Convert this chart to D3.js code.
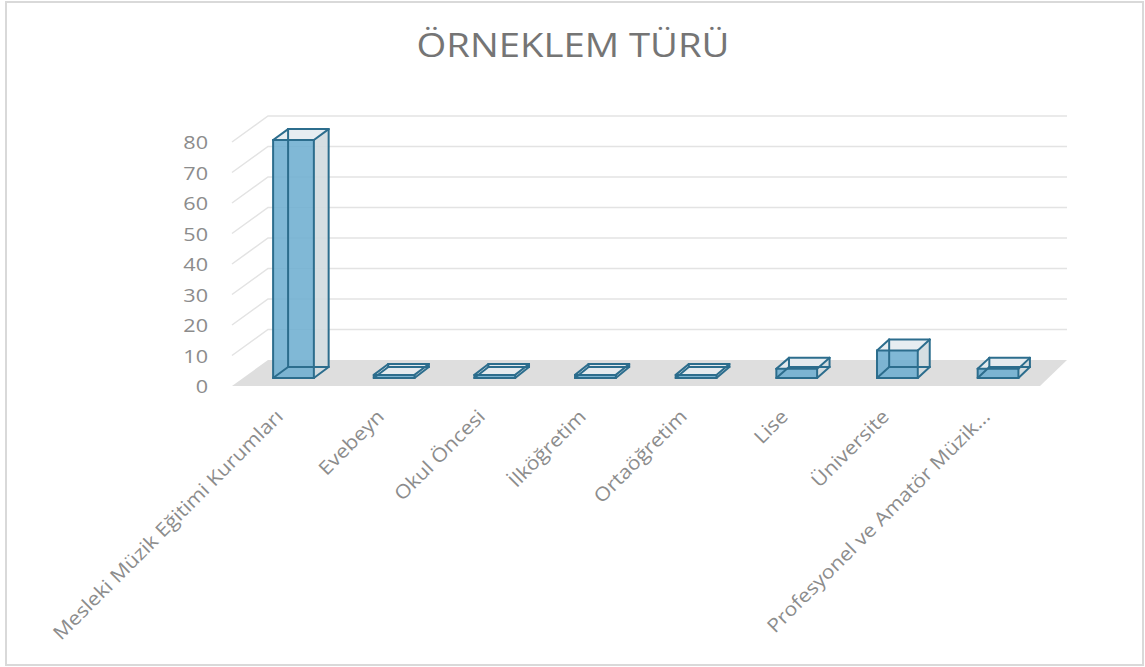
<!DOCTYPE html>
<html>
<head>
<meta charset="utf-8">
<script src="https://cdn.jsdelivr.net/npm/d3@7"></script>
<style>
  body { margin: 0; background: #fff; }
  svg { display: block; font-family: "Open Sans", sans-serif; }
</style>
</head>
<body>
<svg id="chart" width="1145" height="667"></svg>
<script>
// Datos del grafico
const categorias = [
  "Mesleki Müzik Eğitimi Kurumları",
  "Evebeyn",
  "Okul Öncesi",
  "İlköğretim",
  "Ortaöğretim",
  "Lise",
  "Üniversite",
  "Profesyonel ve Amatör Müzik..."
];
const valores = [78, 1, 1, 1, 1, 3, 9, 3];
const marcasY = [0, 10, 20, 30, 40, 50, 60, 70, 80];
const titulo = "ÖRNEKLEM TÜRÜ";

const svg = d3.select("#chart");

// marco exterior
svg.append("rect")
  .attr("x", 6).attr("y", 2)
  .attr("width", 1137).attr("height", 663)
  .attr("fill", "#fff")
  .attr("stroke", "#d9d9d9")
  .attr("stroke-width", 2);

// titulo (un poco ensanchado como en el original)
svg.append("text")
  .attr("transform", "translate(573,57) scale(1.16,1)")
  .attr("text-anchor", "middle")
  .attr("font-size", 33)
  .attr("fill", "#757575")
  .text(titulo);

// escalas (plano frontal)
const x = d3.scaleBand().domain(categorias).range([232, 1040]);
const y = d3.scaleLinear().domain([0, 80]).range([386, 142]);

// profundidad: desplazamiento oblicuo
const dxEn = d3.scaleLinear().domain([232, 1040]).range([36, 27]);
const dyProf = -26;
const proy = (xf, yv, z) => [xf + z * dxEn(xf), yv + z * dyProf];

const linea = d3.line();

// suelo
const x0 = x.range()[0], x1 = x.range()[1];
svg.append("path")
  .attr("d", linea([proy(x0, y(0), 0), proy(x0, y(0), 1), proy(x1, y(0), 1), proy(x1, y(0), 0)]) + "Z")
  .attr("fill", "#dedede");

// lineas de cuadricula (pared izquierda y pared del fondo)
const grid = svg.append("g")
  .attr("stroke", "#e3e3e3")
  .attr("stroke-width", 1.5)
  .attr("fill", "none");
marcasY.filter(v => v > 0).forEach(v => {
  grid.append("path")
    .attr("d", linea([proy(x0, y(v), 0), proy(x0, y(v), 1), proy(x1, y(v), 1)]));
});

// eje Y
const ejeY = svg.append("g")
  .attr("transform", `translate(${x0},0)`)
  .call(d3.axisLeft(y).tickValues(marcasY).tickSize(0).tickPadding(24));
ejeY.select(".domain").remove();
ejeY.selectAll("text")
  .attr("x", null)
  .attr("transform", "translate(-24,1) scale(1.2,1)")
  .attr("font-family", "Open Sans")
  .attr("font-size", 18)
  .attr("fill", "#8c8c8c");

// barras 3D
const zF = 0.31, zB = 0.73;
const anchoBarra = x.bandwidth() * 0.405;
const barras = svg.append("g");

categorias.forEach((c, i) => {
  const xl = x(c) + (x.bandwidth() - anchoBarra) / 2;
  const xr = xl + anchoBarra;
  const yb = y(0), yt = y(valores[i]);
  const P = (xx, yy, z) => proy(xx, yy, z);
  // vertices
  const fbl = P(xl, yb, zF), fbr = P(xr, yb, zF), ftl = P(xl, yt, zF), ftr = P(xr, yt, zF);
  const bbl = P(xl, yb, zB), bbr = P(xr, yb, zB), btl = P(xl, yt, zB), btr = P(xr, yt, zB);
  const g = barras.append("g");
  const cara = (pts, fill, op) => g.append("path")
    .attr("d", linea(pts) + "Z")
    .attr("fill", fill)
    .attr("fill-opacity", op)
    .attr("stroke", "none");
  cara([fbr, bbr, btr, ftr], "#d0dadf", 0.9);    // lado derecho
  cara([ftl, ftr, btr, btl], "#e4ebef", 0.9);    // tapa
  cara([fbl, fbr, ftr, ftl], "#6eaed0", 0.88);   // frente
  // aristas (alambre)
  const aristas = [
    [fbl, fbr], [fbr, ftr], [ftr, ftl], [ftl, fbl],
    [bbl, bbr], [bbr, btr], [btr, btl], [btl, bbl],
    [fbl, bbl], [fbr, bbr], [ftl, btl], [ftr, btr]
  ];
  aristas.forEach(a => g.append("path")
    .attr("d", linea(a))
    .attr("stroke", "#2c6d8d")
    .attr("stroke-width", 2)
    .attr("stroke-linecap", "round")
    .attr("fill", "none"));
});

// eje X con etiquetas giradas
const ejeX = svg.append("g")
  .attr("transform", "translate(-3,413)")
  .call(d3.axisBottom(x).tickSize(0));
ejeX.select(".domain").remove();
ejeX.selectAll("text")
  .attr("x", 0).attr("y", 0)
  .attr("dy", "0.35em")
  .attr("text-anchor", "end")
  .attr("transform", "rotate(-45) scale(1.12,1)")
  .attr("font-family", "Open Sans")
  .attr("font-size", 19)
  .attr("fill", "#8c8c8c");
</script>
</body>
</html>
